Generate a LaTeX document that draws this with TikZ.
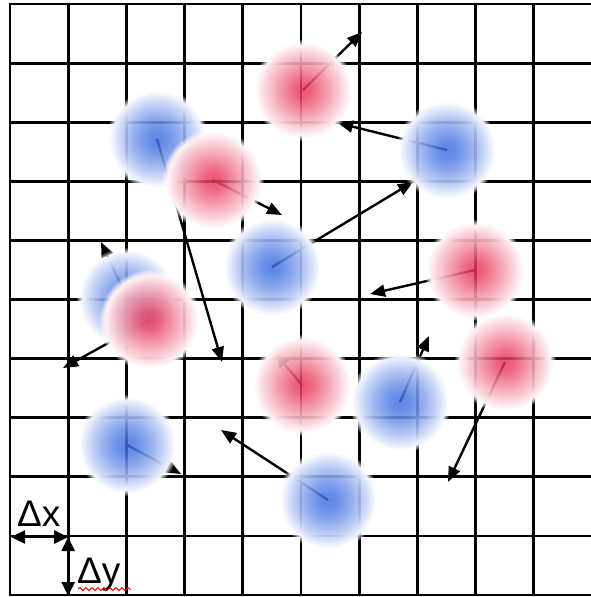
\documentclass[tikz,border=0pt]{standalone}
\usepackage{fontspec}
\setmainfont{Liberation Sans}
\usepackage{tikz}
\usetikzlibrary{
    positioning,
    arrows.meta,
    backgrounds,
    fadings,
    decorations.pathmorphing,
}
\definecolor{blobblue}{RGB}{60,108,225}
\definecolor{blobred}{RGB}{232,50,84}
% Blob shadings (25bp = rim of the circle)
\pgfdeclareradialshading{blueblob}{\pgfpointorigin}{color(0bp)=(blobblue); color(4bp)=(blobblue!92!white); color(10bp)=(blobblue!68!white); color(16bp)=(blobblue!40!white); color(21bp)=(blobblue!13!white); color(24bp)=(white); color(50bp)=(white)}
\pgfdeclareradialshading{redblob}{\pgfpointorigin}{color(0bp)=(blobred); color(4bp)=(blobred!90!white); color(10bp)=(blobred!62!white); color(16bp)=(blobred!34!white); color(21bp)=(blobred!11!white); color(24bp)=(white); color(50bp)=(white)}
\pgfdeclareradialshading{blobfadeshade}{\pgfpointorigin}{color(0bp)=(black!18); color(16bp)=(black!9); color(20.5bp)=(white); color(22bp)=(white); color(25bp)=(black); color(50bp)=(black)}
\pgfdeclarefading{blobfade}{\pgfuseshading{blobfadeshade}}
\tikzset{
    % Particle styles
    particle/.style={circle, minimum size=102pt, inner sep=0pt, path fading=blobfade},
    plus/.style={particle, shading=blueblob},
    minus/.style={particle, shading=redblob},
    % Arrow styles
    vel/.style={-{Triangle[length=15pt, width=12pt]}, line width=2.4pt},
    spacing/.style={{Triangle[length=14pt, width=13pt]}-{Triangle[length=14pt, width=13pt]}, line width=2.4pt},
    % Grid and annotation styles
    gridline/.style={line width=2.8pt, line cap=rect},
    lbl/.style={anchor=base west, inner sep=0pt, font=\fontsize{37}{42}\selectfont},
    squiggle/.style={red, line width=1pt, decorate, decoration={snake, amplitude=1.4pt, segment length=6pt}},
}

\begin{document}
\begin{tikzpicture}[x=1pt, y=-1pt]
    \useasboundingbox (0,0) rectangle (590,597);

    % Positive particles
    \node[plus] (b1) at (157,139) {};
    \node[plus] (b2) at (447,150) {};
    \node[plus] (b3) at (272,267) {};
    \node[plus] (b4) at (127,298) {};
    \node[plus] (b5) at (127,445) {};
    \node[plus] (b6) at (400,402) {};
    \node[plus] (b7) at (328,500) {};

    % Negative particles
    \node[minus] (r1) at (303,90) {};
    \node[minus] (r2) at (213,180) {};
    \node[minus] (r3) at (150,320) {};
    \node[minus] (r4) at (475,270) {};
    \node[minus] (r5) at (505,362) {};
    \node[minus] (r6) at (302,385) {};

    % Velocity tips
    \coordinate (b1t) at (222,362);
    \coordinate (b2t) at (338,123);
    \coordinate (b3t) at (413,182);
    \coordinate (b4t) at (101,242);
    \coordinate (b5t) at (181,474);
    \coordinate (b6t) at (429,336);
    \coordinate (b7t) at (221,430);
    \coordinate (r1t) at (362,32);
    \coordinate (r2t) at (282,215);
    \coordinate (r3t) at (63,368);
    \coordinate (r4t) at (370,294);
    \coordinate (r5t) at (448,482);
    \coordinate (r6t) at (275,353);

    \begin{scope}[on background layer]
        % Grid
        \foreach \i in {0,...,9}
            \draw[gridline] (10+58.2*\i,4) -- (10+58.2*\i,595);
        \foreach \j in {0,...,10}
            \draw[gridline] (10,4+59.1*\j) -- (590,4+59.1*\j);

        % Velocities
        \foreach \p in {b1,b2,b3,b4,b5,b6,b7,r1,r2,r3,r4,r5,r6}
            \draw[vel] (\p.center) -- (\p t);
    \end{scope}

    % Cell size
    \coordinate (dx0) at (11,537);
    \coordinate (dx1) at (68.2,537);
    \coordinate (dy1) at (68.2,596);
    \draw[spacing] (dx0) -- (dx1);
    \draw[spacing] (dx1) -- (dy1);
    \node[lbl] (lx) at (17,526) {Δx};
    \node[lbl] (ly) at (77,583) {Δy};
    \draw[squiggle] (78,589) -- (131,589);
\end{tikzpicture}
\end{document}
